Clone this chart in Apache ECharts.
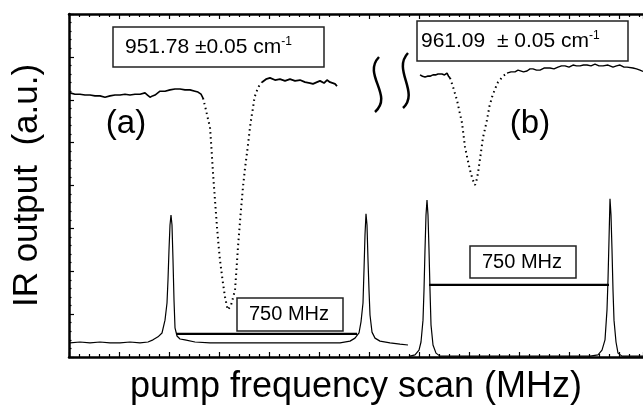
<!DOCTYPE html>
<html>
<head>
<meta charset="utf-8">
<script src="https://cdn.jsdelivr.net/npm/echarts@6/dist/echarts.min.js"></script>
<style>
html,body{margin:0;padding:0;background:#fff;}
#chart{width:643px;height:410px;}
</style>
</head>
<body>
<div id="chart"></div>
<script>
// x: pump frequency scan (approx. MHz), y: IR output (a.u.)
const dipA_left = [[4,6.16],[24,6.13],[44,6.13],[64,6.11],[84,6.11],[104,6.09],[124,6.09],[144,6.06],[164,6.09],[184,6.11],[204,6.11],[224,6.13],[244,6.11],[264,6.13],[284,6.13],[304,6.16],[314,6.11],[324,6.06],[334,6.09],[344,6.11],[364,6.20],[384,6.20],[404,6.23],[424,6.25],[444,6.25],[464,6.23],[484,6.23],[504,6.20],[516,6.18],[528,6.13],[536,6.04]];
const dipA_slope = [[536,6.04],[548,5.76],[556,5.55],[564,5.36],[570,4.85],[576,4.29],[584,3.65],[592,3.03],[598,2.62],[604,2.26],[614,1.80],[624,1.40],[632,1.18],[636,1.10],[642,1.12],[648,1.21],[656,1.38],[664,1.56],[670,2.05],[676,2.57],[686,3.30],[696,3.97],[704,4.40],[712,4.76],[718,5.05],[724,5.36],[730,5.60],[736,5.81],[742,6.05],[748,6.16],[760,6.32],[772,6.41]];
const dipA_right = [[772,6.41],[788,6.48],[804,6.51],[824,6.46],[844,6.48],[864,6.44],[884,6.48],[904,6.44],[924,6.46],[944,6.41],[964,6.39],[976,6.37],[992,6.41],[1004,6.44],[1020,6.39],[1032,6.46],[1044,6.41],[1052,6.39],[1064,6.37],[1072,6.32]];
const dipB_left = [[1404,6.58],[1414,6.55],[1424,6.53],[1434,6.55],[1444,6.55],[1456,6.58],[1466,6.58],[1476,6.60],[1492,6.60],[1502,6.58],[1512,6.62],[1518,6.55],[1524,6.51]];
const dipB_slope = [[1524,6.51],[1536,6.30],[1552,5.99],[1562,5.72],[1572,5.46],[1584,4.90],[1594,4.62],[1604,4.36],[1614,4.15],[1624,4.01],[1630,4.12],[1636,4.29],[1646,4.70],[1656,5.12],[1664,5.32],[1672,5.53],[1682,5.85],[1692,6.06],[1704,6.25],[1716,6.41],[1736,6.55],[1752,6.62]];
const dipB_right = [[1752,6.62],[1768,6.65],[1784,6.65],[1796,6.69],[1804,6.69],[1818,6.65],[1832,6.67],[1844,6.72],[1856,6.72],[1870,6.69],[1884,6.69],[1900,6.74],[1924,6.74],[1940,6.72],[1956,6.76],[1970,6.79],[1984,6.79],[2000,6.76],[2016,6.81],[2030,6.79],[2044,6.79],[2058,6.81],[2072,6.81],[2088,6.79],[2104,6.83],[2120,6.79],[2136,6.79],[2156,6.81],[2176,6.76],[2190,6.79],[2204,6.81],[2220,6.76],[2232,6.76],[2256,6.74],[2270,6.72],[2284,6.69],[2296,6.66]];
const etalonA = [[4,0.33],[44,0.35],[84,0.33],[124,0.35],[164,0.33],[204,0.33],[244,0.35],[284,0.33],[316,0.35],[336,0.40],[356,0.47],[372,0.56],[384,0.86],[392,1.26],[396,1.80],[400,2.50],[404,3.08],[408,3.31],[412,3.08],[416,2.26],[420,1.33],[424,0.68],[432,0.49],[444,0.42],[464,0.40],[504,0.35],[564,0.33],[644,0.33],[764,0.33],[884,0.33],[1004,0.33],[1084,0.33],[1124,0.37],[1144,0.44],[1160,0.56],[1168,0.82],[1176,1.26],[1180,2.03],[1184,2.85],[1188,3.34],[1192,3.08],[1196,2.26],[1200,1.56],[1204,0.98],[1212,0.58],[1224,0.44],[1244,0.37],[1284,0.33],[1324,0.30],[1356,0.28]];
const etalonB = [[1364,0.02],[1384,0.05],[1400,0.16],[1408,0.35],[1416,0.86],[1420,1.56],[1424,2.50],[1428,3.31],[1432,3.66],[1436,3.31],[1440,2.50],[1444,1.56],[1448,0.75],[1456,0.28],[1468,0.09],[1484,0.02],[1564,0.02],[1724,0.02],[1924,0.02],[2084,0.02],[2116,0.05],[2132,0.16],[2144,0.40],[2152,1.10],[2156,1.80],[2160,2.73],[2164,3.69],[2168,3.31],[2172,2.50],[2176,1.56],[2180,0.86],[2188,0.35],[2196,0.09],[2212,0.02],[2296,0.02]];
const spanA = [[428,0.54],[1152,0.54]];
const spanB = [[1440,1.68],[2160,1.68]];
const labelA = '951.78 ±0.05 cm';
const labelB = '961.09  ± 0.05 cm';
const spanLabel = '750 MHz';
const panelA = '(a)';
const panelB = '(b)';
const xTitle = 'pump frequency scan (MHz)';
const yTitle = 'IR output  (a.u.)';

const FONT = '"Liberation Sans", Arial, sans-serif';
const chart = echarts.init(document.getElementById('chart'), null, {renderer:'canvas'});

function ln(data, width, type){
  return {type:'line', data:data, showSymbol:false, silent:true, animation:false, clip:true,
    lineStyle:{color:'#000', width:width, type:type||'solid'}, z:3};
}

function boxText(x, y, w, h, tx, text, size, sup){
  const rich = {n:{fontSize:size, fontFamily:FONT, color:'#000'}, s:{fontSize:Math.round(size*0.55), fontFamily:FONT, color:'#000', verticalAlign:'top', padding:[0,0,10,0]}};
  return [
    {type:'rect', shape:{x:x, y:y, width:w, height:h}, style:{fill:'#fff', stroke:'#222', lineWidth:1.5}, z:10},
    {type:'text', x:tx, y:y+h/2, style:{text: sup ? '{n|'+text+'}{s|-1}' : '{n|'+text+'}', rich:rich, verticalAlign:'middle', align:'left', fill:'#000'}, z:11}
  ];
}

const option = {
  backgroundColor:'#fff',
  animation:false,
  grid:{left:69, top:14, right:0, bottom:53},
  xAxis:[
    {type:'value', min:0, max:2296, interval:200, position:'bottom',
     name:xTitle, nameLocation:'middle', nameGap:12,
     nameTextStyle:{fontSize:36, fontFamily:FONT, color:'#000', verticalAlign:'top'},
     axisLine:{show:true, lineStyle:{color:'#000', width:2.5}},
     axisTick:{show:true, inside:true, length:5, lineStyle:{color:'#000', width:1.2}},
     minorTick:{show:true, splitNumber:5, length:3, lineStyle:{color:'#000', width:1.2}},
     axisLabel:{show:false}, splitLine:{show:false}},
    {type:'value', min:0, max:2296, interval:200, position:'top',
     axisLine:{show:true, onZero:false, lineStyle:{color:'#000', width:2.5}},
     axisTick:{show:true, inside:true, length:5, lineStyle:{color:'#000', width:1.2}},
     minorTick:{show:true, splitNumber:5, length:3, lineStyle:{color:'#000', width:1.2}},
     axisLabel:{show:false}, splitLine:{show:false}}
  ],
  yAxis:[
    {type:'value', min:0, max:8, interval:1, position:'left',
     name:yTitle, nameLocation:'middle', nameGap:24,
     nameTextStyle:{fontSize:35, fontFamily:FONT, color:'#000'},
     axisLine:{show:true, lineStyle:{color:'#000', width:2.5}},
     axisTick:{show:true, inside:true, length:5, lineStyle:{color:'#000', width:1.2}},
     minorTick:{show:true, splitNumber:5, length:2.5, lineStyle:{color:'#000', width:1.2}},
     axisLabel:{show:false}, splitLine:{show:false}}
  ],
  series:[
    ln(dipA_left, 1.6), ln(dipA_slope, 2, [1.5,3.5]), ln(dipA_right, 1.8),
    ln(dipB_left, 1.6), ln(dipB_slope, 2, [1.5,3.5]), ln(dipB_right, 1.4),
    ln(etalonA, 1.2), ln(etalonB, 1.2),
    ln(spanA, 2.2), ln(spanB, 2.2)
  ],
  graphic:[
    ...boxText(113, 27, 211, 40, 125, labelA, 21, true),
    ...boxText(417, 21, 211, 40, 421, labelB, 21, true),
    ...boxText(237, 298, 106, 33, 249, spanLabel, 20, false),
    ...boxText(470, 246, 106, 32, 482, spanLabel, 20, false),
    {type:'text', x:126, y:124, style:{text:panelA, fontSize:33, fontFamily:FONT, fill:'#000', align:'center', verticalAlign:'middle'}, z:11},
    {type:'text', x:530, y:124, style:{text:panelB, fontSize:33, fontFamily:FONT, fill:'#000', align:'center', verticalAlign:'middle'}, z:11},
    {type:'bezierCurve', shape:{x1:379, y1:57, x2:375, y2:112, cpx1:362, cpy1:75, cpx2:394, cpy2:95}, style:{stroke:'#000', lineWidth:2.5, fill:null}, z:11},
    {type:'bezierCurve', shape:{x1:408, y1:53, x2:403, y2:108, cpx1:392, cpy1:70, cpx2:420, cpy2:92}, style:{stroke:'#000', lineWidth:2.5, fill:null}, z:11}
  ]
};
chart.setOption(option);
</script>
</body>
</html>
